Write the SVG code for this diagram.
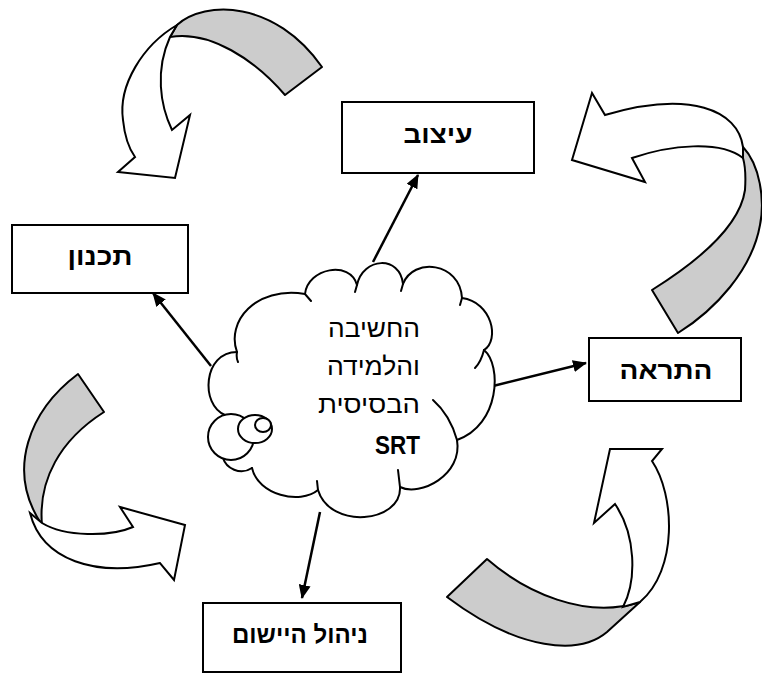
<svg xmlns="http://www.w3.org/2000/svg" width="762" height="673" viewBox="0 0 762 673">
<style>
.box{fill:#fff;stroke:#000;stroke-width:2}
.lbl{font-family:"Liberation Sans","DejaVu Sans",sans-serif;font-weight:bold;font-size:25px;fill:#000;text-anchor:middle}
.ctx{font-family:"Liberation Sans","DejaVu Sans",sans-serif;font-size:25px;fill:#000;text-anchor:end}
.con{stroke:#000;stroke-width:2.5;fill:none;marker-end:url(#ah)}
.gray{fill:#cccccc;stroke:#000;stroke-width:2;stroke-linejoin:round}
.wht{fill:#fff;stroke:#000;stroke-width:2;stroke-linejoin:miter}
.cl{fill:none;stroke:#000;stroke-width:2;stroke-linecap:round}
</style>
<defs>
<marker id="ah" viewBox="0 0 14 12" refX="13" refY="6" markerWidth="14" markerHeight="12" markerUnits="userSpaceOnUse" orient="auto">
<path d="M0,0 L14,6 L0,12 z" fill="#000"/>
</marker>
</defs>
<rect width="762" height="673" fill="#fff"/>

<g id="curved-arrow-top-left">
<path class="gray" d="M177,25 C205,0 275,0 322,67 L285,95 C255,60 210,30 170,37 Z"/>
<path class="wht" d="M177,25 C143,45 118,85 123,120 C125,140 130,150 135,157 L118,172 L175,178 L190,115 L172,130 C160,105 155,70 170,37 Z"/>
</g>
<g id="curved-arrow-top-right">
<path class="gray" d="M743,147 C760,165 765,200 760,225 C752,270 715,310 678,333 L652,290 C700,260 740,225 745,190 C746,175 745,165 743,158 Z"/>
<path class="wht" d="M743,147 C738,110 690,90 605,115 L592,93 L572,160 L645,182 L632,158 C670,145 720,140 743,158 Z"/>
</g>
<g id="curved-arrow-left">
<path class="gray" d="M78,374 C30,410 5,470 42,525 C38,480 60,440 104,412 Z"/>
<path class="wht" d="M30,513 C42,560 95,578 160,563 L174,580 L185,525 L120,507 L133,527 C110,537 65,537 42,523 Z"/>
</g>
<g id="curved-arrow-bottom-right">
<path class="gray" d="M487,559 C525,592 585,620 640,602 L607,632 C580,655 520,652 447,597 Z"/>
<path class="wht" d="M610,449 L662,449 L652,461 C675,495 678,570 640,602 L623,607 C637,580 636,535 615,504 L594,523 Z"/>
</g>

<g id="connectors">
<line class="con" x1="373" y1="262" x2="418" y2="175"/>
<line class="con" x1="211" y1="366" x2="153" y2="293"/>
<line class="con" x1="493" y1="386" x2="586" y2="363"/>
<line class="con" x1="320" y1="512" x2="302" y2="598"/>
</g>

<g id="node-center">
<path fill="#fff" stroke="none" d="M237,352 C226,322 255,286 305,294 C308,268 350,260 357,285 C363,257 400,255 403,284 C413,257 460,262 462,298 C492,302 500,340 484,350 C502,365 500,425 457,440 C463,475 420,497 400,487 C402,523 330,530 318,490 C300,505 258,495 252,468 C240,476 226,468 223,458 L225,415 C200,405 203,352 237,352 Z"/>
<path class="cl" d="M238,362 Q236,358 237,352 C226,322 255,286 305,294 L311,301"/>
<path class="cl" d="M305,294 C308,268 350,260 357,285 L355,292"/>
<path class="cl" d="M357,285 C363,257 400,255 403,284 L401,291"/>
<path class="cl" d="M403,284 C413,257 460,262 462,298 L460,305"/>
<path class="cl" d="M462,298 C492,302 500,340 484,350 Q481,362 475,368"/>
<path class="cl" d="M484,350 C502,365 500,425 457,440 Q450,415 433,400"/>
<path class="cl" d="M457,440 C463,475 420,497 400,487 L398,470"/>
<path class="cl" d="M400,487 C402,523 330,530 318,490 L317,481"/>
<path class="cl" d="M318,490 C300,505 258,495 252,468"/>
<path class="cl" d="M252,468 C240,476 226,468 223,458"/>
<path class="cl" d="M233,415 L225,415 C200,405 203,352 237,352"/>
<ellipse cx="231" cy="437" rx="23" ry="23" fill="#fff" stroke="#000" stroke-width="2"/>
<ellipse cx="255" cy="429" rx="17" ry="14" fill="#fff" stroke="#000" stroke-width="2"/>
<ellipse cx="263" cy="425" rx="8" ry="7" fill="#fff" stroke="#000" stroke-width="2"/>
<text class="ctx" x="420" y="337" textLength="92" lengthAdjust="spacingAndGlyphs">החשיבה</text>
<text class="ctx" x="420" y="375" textLength="93" lengthAdjust="spacingAndGlyphs">והלמידה</text>
<text class="ctx" x="420" y="413" textLength="102" lengthAdjust="spacingAndGlyphs">הבסיסית</text>
<text class="ctx" x="420" y="454" font-weight="bold" font-size="26" textLength="45" lengthAdjust="spacingAndGlyphs">SRT</text>
</g>

<g id="node-design">
<rect class="box" x="342" y="102" width="192" height="71"/>
<text class="lbl" x="438" y="143" textLength="69" lengthAdjust="spacingAndGlyphs">עיצוב</text>
</g>
<g id="node-planning">
<rect class="box" x="12" y="225" width="176" height="68"/>
<text class="lbl" x="100" y="265" textLength="65" lengthAdjust="spacingAndGlyphs">תכנון</text>
</g>
<g id="node-alert">
<rect class="box" x="589" y="338" width="152" height="63"/>
<text class="lbl" x="666" y="379" textLength="93" lengthAdjust="spacingAndGlyphs">התראה</text>
</g>
<g id="node-implementation">
<rect class="box" x="203" y="603" width="198" height="69"/>
<text class="lbl" x="300" y="643" textLength="136" lengthAdjust="spacingAndGlyphs">ניהול היישום</text>
</g>
</svg>
